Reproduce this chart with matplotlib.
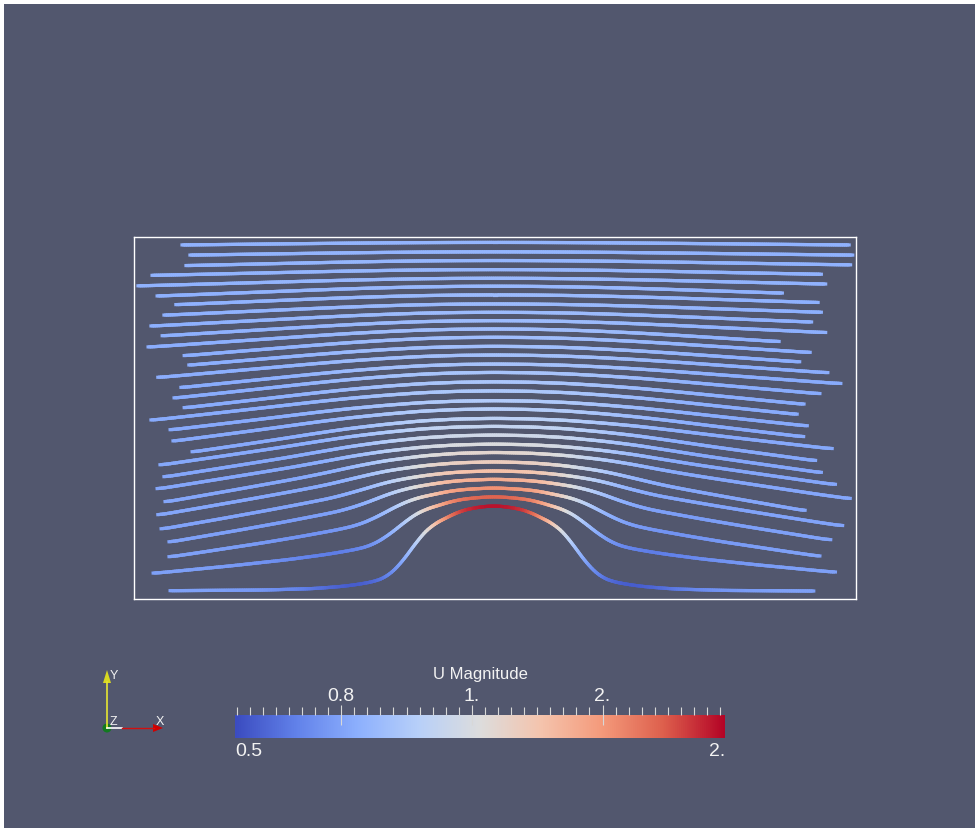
import numpy as np
import matplotlib
matplotlib.use("Agg")
from matplotlib import pyplot
from matplotlib.collections import LineCollection
from matplotlib.colors import LinearSegmentedColormap, Normalize
from matplotlib.patches import Rectangle, Polygon, Circle

"""
Streamlines of channel flow over a bump, coloured by |U|
(channel is x in [0, 2], y in [0, 1]; streamlines listed top to bottom)
"""

x_start = [0.133, 0.155, 0.144, 0.050, 0.011, 0.064, 0.116, 0.083, 0.047, 0.078,
           0.039, 0.139, 0.152, 0.066, 0.130, 0.111, 0.139, 0.047, 0.100, 0.108,
           0.161, 0.072, 0.083, 0.064, 0.086, 0.066, 0.075, 0.097, 0.097, 0.053, 0.100]
x_end = [1.981, 1.991, 1.985, 1.904, 1.916, 1.796, 1.895, 1.904, 1.877, 1.916,
         1.787, 1.873, 1.844, 1.922, 1.958, 1.900, 1.856, 1.837, 1.865, 1.855,
         1.934, 1.888, 1.904, 1.943, 1.984, 1.859, 1.963, 1.930, 1.900, 1.943, 1.883]
y_start = [0.978, 0.950, 0.921, 0.894, 0.865, 0.837, 0.813, 0.784, 0.754, 0.727,
           0.696, 0.672, 0.646, 0.612, 0.584, 0.555, 0.528, 0.494, 0.467, 0.436,
           0.406, 0.370, 0.337, 0.304, 0.268, 0.232, 0.193, 0.157, 0.116, 0.071, 0.023]
y_crest = [0.985, 0.959, 0.935, 0.910, 0.886, 0.864, 0.840, 0.815, 0.792, 0.769,
           0.746, 0.723, 0.698, 0.674, 0.649, 0.626, 0.600, 0.575, 0.548, 0.525,
           0.499, 0.477, 0.453, 0.428, 0.405, 0.379, 0.354, 0.331, 0.307, 0.283, 0.258]
y_end = [0.978, 0.950, 0.923, 0.897, 0.870, 0.845, 0.819, 0.792, 0.765, 0.736,
         0.711, 0.681, 0.655, 0.625, 0.595, 0.567, 0.538, 0.510, 0.478, 0.448,
         0.415, 0.382, 0.349, 0.316, 0.277, 0.244, 0.202, 0.163, 0.118, 0.074, 0.022]

# |U| at the inlet end, over the crest, and the drop at the bump foot
u_inlet = [0.86, 0.86, 0.86, 0.86, 0.86, 0.85, 0.85, 0.85, 0.85, 0.85,
           0.84, 0.84, 0.84, 0.84, 0.83, 0.83, 0.83, 0.83, 0.82, 0.82,
           0.82, 0.82, 0.81, 0.81, 0.81, 0.81, 0.80, 0.80, 0.80, 0.79, 0.79]
u_crest = [0.88, 0.88, 0.89, 0.89, 0.90, 0.90, 0.91, 0.91, 0.92, 0.92,
           0.93, 0.93, 0.94, 0.95, 0.96, 0.97, 0.98, 0.99, 1.01, 1.03,
           1.06, 1.10, 1.16, 1.22, 1.28, 1.35, 1.43, 1.52, 1.63, 1.78, 1.95]
u_dip = [0.0] * 27 + [0.03, 0.07, 0.15, 0.27]

crest_x = 0.997
# lowest streamline: lift (fraction of crest height) vs distance from crest
bump_dx = [0.0, 0.055, 0.097, 0.130, 0.172, 0.205, 0.238, 0.266, 0.294, 0.321,
           0.360, 0.416, 0.499, 0.637, 0.914, 3.0]
bump_lift = [1.0, 0.975, 0.93, 0.86, 0.77, 0.63, 0.43, 0.28, 0.17, 0.12,
             0.085, 0.052, 0.025, 0.008, 0.0, 0.0]
# streamlines high up: gentle dome over the whole channel
broad_dx = [0.0, 0.1, 0.2, 0.3, 0.4, 0.5, 0.6, 0.7, 0.8, 0.9, 1.0, 3.0]
broad_lift = [1.0, 0.985, 0.94, 0.86, 0.76, 0.64, 0.51, 0.38, 0.25, 0.12, 0.0, 0.0]
crest_dx = [0.0, 0.05, 0.10, 0.15, 0.20, 0.25, 0.30, 0.40]
crest_gain = [1.0, 0.98, 0.90, 0.62, 0.30, 0.10, 0.02, 0.0]
foot_dx = [0.15, 0.20, 0.26, 0.33, 0.38, 0.45, 0.55, 0.65, 0.80]
foot_loss = [0.0, 0.1, 0.4, 0.85, 1.0, 0.8, 0.4, 0.15, 0.0]

# Cool to Warm
cool_warm = [(59, 76, 192), (98, 130, 234), (141, 176, 254), (184, 208, 249),
             (221, 221, 221), (245, 196, 173), (244, 154, 123), (222, 96, 77),
             (180, 4, 38)]
u_min, u_max = 0.475, 1.975
bar_ticks = [0.8, 1.2, 1.6]
bar_labels = ["0.8", "1.", "2."]
bar_minor = [0.48 + 0.04 * k for k in range(38)]

BG = "#52576e"
TXT = "#f2f2f2"
W, H = 975, 829

pyplot.rcParams["font.family"] = ["Liberation Sans", "DejaVu Sans"]
cmap = LinearSegmentedColormap.from_list(
    "cool_warm", [tuple(c / 255. for c in rgb) for rgb in cool_warm])
norm = Normalize(u_min, u_max)


def lift(dx, w, s):
    dx = np.abs(dx)
    return s * np.interp(dx / w, bump_dx, bump_lift) + \
        (1 - s) * np.interp(dx, broad_dx, broad_lift)


def smooth(v, n=11):
    pad = np.concatenate([np.full(n, v[0]), v, np.full(n, v[-1])])
    out = np.convolve(pad, np.ones(n) / n, mode="same")
    return out[n:-n]


def make_streamline(i):
    depth = y_start[i] - y_start[-1]
    w = 1 + 3 * depth
    s = np.exp(-depth / 0.12)
    x = np.linspace(x_start[i], x_end[i], 360)
    y = np.empty_like(x)
    left = x < crest_x
    g0 = lift(crest_x - x_start[i], w, s)
    y[left] = y_start[i] + (y_crest[i] - y_start[i]) * \
        (lift(x[left] - crest_x, w, s) - g0) / (1 - g0)
    g1 = lift(x_end[i] - crest_x, w, s)
    y[~left] = y_end[i] + (y_crest[i] - y_end[i]) * \
        (lift(x[~left] - crest_x, w, s) - g1) / (1 - g1)
    d = np.abs(x - crest_x) / w
    u = u_inlet[i] + (u_crest[i] - u_inlet[i]) * np.interp(d, crest_dx, crest_gain) \
        - u_dip[i] * np.interp(d, foot_dx, foot_loss)
    return x, smooth(y), smooth(u)


fig = pyplot.figure(figsize=(W / 100., H / 100.), dpi=100, facecolor=BG)
fig.patches.append(Rectangle((0, 1 - 5. / H), 1, 5. / H, transform=fig.transFigure,
                             facecolor="white", edgecolor="none"))
fig.patches.append(Rectangle((0, 0), 4. / W, 1, transform=fig.transFigure,
                             facecolor="white", edgecolor="none"))

# flow domain
ax = fig.add_axes([134. / W, (H - 600.) / H, 722. / W, 362. / H])
ax.set_facecolor("none")
ax.set_xlim(0, 2)
ax.set_ylim(0, 1)
ax.set_xticks([])
ax.set_yticks([])
for s in ax.spines.values():
    s.set_color("white")
    s.set_linewidth(1.0)

for i in range(len(y_start)):
    x, y, u = make_streamline(i)
    pts = np.column_stack([x, y]).reshape(-1, 1, 2)
    segs = np.concatenate([pts[:-1], pts[1:]], axis=1)
    lc = LineCollection(segs, cmap=cmap, norm=norm, linewidths=2.3,
                        capstyle="projecting", clip_on=False)
    lc.set_array(0.5 * (u[:-1] + u[1:]))
    ax.add_collection(lc)

# colour bar
cax = fig.add_axes([235. / W, (H - 739.3) / H, 490. / W, 23.3 / H])
grad = np.linspace(u_min, u_max, 512).reshape(1, -1)
cax.imshow(grad, aspect="auto", cmap=cmap, norm=norm,
           extent=[u_min, u_max, 0, 1])
cax.set_xlim(u_min, u_max)
cax.set_yticks([])
for s in cax.spines.values():
    s.set_visible(False)
cax.xaxis.set_ticks_position("top")
cax.set_xticks(bar_ticks)
cax.set_xticklabels(bar_labels)
cax.set_xticks(bar_minor, minor=True)
cax.tick_params(which="major", direction="inout", length=14, width=0.8,
                color="#d8d8d8", labelsize=14, labelcolor=TXT, pad=1)
cax.tick_params(which="minor", direction="out", length=6, width=0.8,
                color="#d8d8d8")

# overlay for text and orientation triad, pixel coordinates
ov = fig.add_axes([0, 0, 1, 1])
ov.set_xlim(0, W)
ov.set_ylim(H, 0)
ov.axis("off")
ov.set_facecolor("none")
ov.text(480, 674, "U Magnitude", color=TXT, fontsize=12, ha="center", va="center")
ov.text(235, 752, "0.5", color=TXT, fontsize=14, ha="left", va="center")
ov.text(725, 752, "2.", color=TXT, fontsize=14, ha="right", va="center")

ov.plot([107, 107], [729, 683], color="#e6e632", lw=1.2)
ov.add_patch(Polygon([(103, 684), (111, 684), (107, 671)], closed=True,
                     facecolor="#d8d820", edgecolor="none"))
ov.plot([107, 122], [729, 729], color="white", lw=1.2)
ov.plot([122, 154], [729, 729], color="#d01010", lw=1.0)
ov.add_patch(Polygon([(153, 725), (153, 733), (163, 729)], closed=True,
                     facecolor="#d00000", edgecolor="none"))
ov.add_patch(Circle((107, 729), 4.5, facecolor="#127a20", edgecolor="none"))
ov.text(110, 676, "Y", color=TXT, fontsize=9, ha="left", va="center")
ov.text(110, 722, "Z", color=TXT, fontsize=9, ha="left", va="center")
ov.text(156, 722, "X", color=TXT, fontsize=9, ha="left", va="center")

pyplot.savefig("out.png", dpi=100, facecolor=BG)
